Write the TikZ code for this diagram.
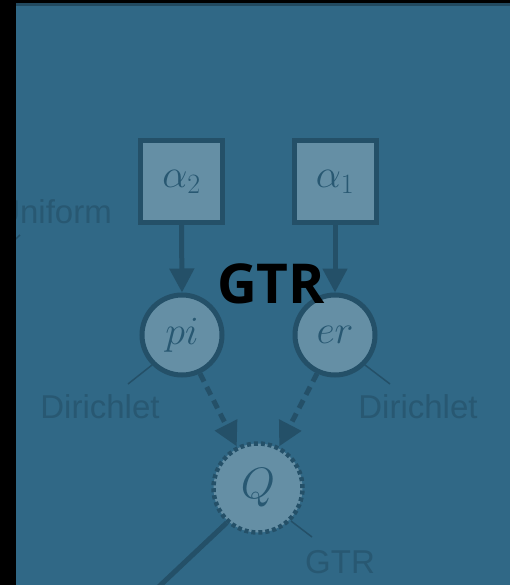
\RequirePackage{fix-cm}
\documentclass[tikz,border=0pt]{standalone}
\usepackage{fontspec}
\setmainfont{Liberation Sans}
\newfontfamily\boldhead{Open Sans}
\usetikzlibrary{arrows.meta}
\definecolor{bgc}{RGB}{48,104,134}
\definecolor{topc}{RGB}{34,74,96}
\definecolor{fillc}{RGB}{101,143,165}
\definecolor{edgec}{RGB}{36,80,104}
\definecolor{txtc}{RGB}{40,88,114}
\tikzset{
  boxnode/.style={draw=edgec, fill=fillc, line width=5pt, minimum size=82pt, inner sep=0pt},
  varnode/.style={circle, draw=edgec, fill=fillc, line width=5pt, minimum size=80pt, inner sep=0pt},
  detnode/.style={circle, draw=edgec, fill=fillc, line width=4.5pt, dash pattern=on 4pt off 3pt, minimum size=89pt, inner sep=0pt},
  mathlbl/.style={text=txtc, font=\fontsize{40}{48}\selectfont},
  distlbl/.style={text=txtc, font=\fontsize{33}{40}\selectfont, inner sep=0pt},
  pin line/.style={draw=edgec, line width=1.5pt},
  solidarrow/.style={draw=edgec, line width=5pt, -{Triangle[width=24pt,length=24pt]}},
  dasharrow/.style={draw=edgec, line width=5pt, dash pattern=on 9pt off 6pt, -{Triangle[width=24pt,length=24pt]}},
}
\begin{document}
\begin{tikzpicture}[x=1pt,y=-1pt]
\clip (0,0) rectangle (510,585);
\fill[bgc] (0,0) rectangle (510,585);
% nodes
\node[boxnode] (a2) at (181.5,181.5) {};
\node[mathlbl] at (a2) {$\alpha_2$};
\node[boxnode] (a1) at (335,181.5) {};
\node[mathlbl] at (a1) {$\alpha_1$};
\node[varnode] (pi) at (182,335) {};
\node[mathlbl] at (pi) {$pi$};
\node[varnode] (er) at (335,335) {};
\node[mathlbl] at (er) {$er$};
\node[detnode] (Q) at (258,488) {};
\node[mathlbl, font=\fontsize{44}{50}\selectfont] at (Q) {$Q$};
% edges
\draw[solidarrow] (a2.south) -- (pi.north);
\draw[solidarrow] (a1.south) -- (er.north);
\draw[dasharrow] (pi.-65) -- (Q.117);
\draw[dasharrow] (er.-115) -- (Q.63);
\coordinate (qout) at (150,595);
\draw[edgec, line width=5pt] (Q.-132) -- (qout);
% labels with pin lines
\coordinate (ldir) at (128,384);
\draw[pin line] (pi.-135) -- (ldir);
\node[distlbl, anchor=base] (dl) at (100,418) {Dirichlet};
\coordinate (rdir) at (390,384);
\draw[pin line] (er.-45) -- (rdir);
\node[distlbl, anchor=base] (dr) at (418,418) {Dirichlet};
\coordinate (gq) at (312,537);
\draw[pin line] (Q.-45) -- (gq);
\node[distlbl, anchor=base] (gl) at (340,573) {GTR};
\node[distlbl, anchor=base east] (ul) at (112,223) {Uniform};
\coordinate (ua) at (20,235);
\coordinate (ub) at (4,250);
\draw[pin line] (ua) -- (ub);
% title
\node[font=\boldhead\bfseries\fontsize{55}{60}\selectfont, text=black, inner sep=0pt] (title) at (271,284) {GTR};
% frame bands
\fill[topc] (0,3) rectangle (510,6.5);
\fill[black] (0,0) rectangle (510,3);
\fill[black] (0,0) rectangle (16,585);
\end{tikzpicture}
\end{document}
